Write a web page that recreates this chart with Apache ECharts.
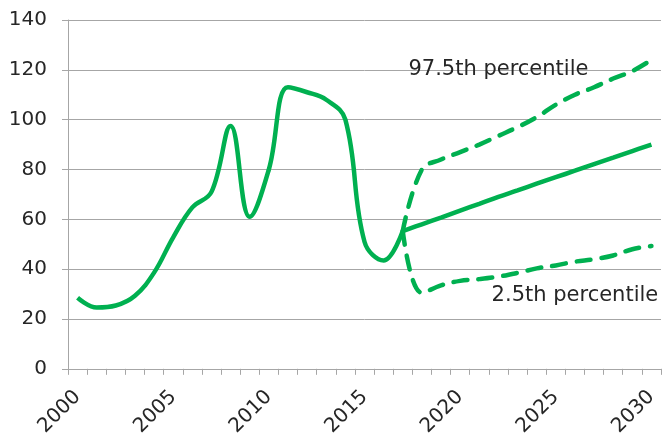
<!DOCTYPE html>
<html>
<head>
<meta charset="utf-8">
<script src="https://cdn.jsdelivr.net/npm/echarts@6/dist/echarts.min.js"></script>
<style>
  html, body { margin: 0; padding: 0; background: #fff; overflow: hidden; }
  #main { width: 664px; height: 439px; }
</style>
</head>
<body>
<div id="main"></div>
<script>
  // years on the category axis
  let years = []
  for (let y = 2000; y <= 2030; y++) years.push(String(y))

  // history 2000-2017
  let history = [28.5, 24.6, 25.4, 29.3, 38.6, 52.8, 64.8, 71, 97.5, 61, 80, 113, 111, 108, 100, 51, 43.5, 55.3]
  // central forecast 2017-2030
  let central = [55.3, 58, 60.7, 63.5, 66.2, 69, 71.6, 74.3, 76.9, 79.5, 82.2, 84.8, 87.4, 90]
  // upper band 2017-2030
  let upper = [55.3, 80, 84, 87, 90, 93.5, 97, 101, 106, 110, 113, 116.5, 119.5, 124]
  // lower band 2017-2030
  let lower = [55.3, 30.5, 33.5, 35.3, 36, 37, 38.5, 40.3, 41.5, 43, 44, 45.5, 48, 49.3]

  let upperLabel = { text: '97.5th percentile', year: '2022', value: 120.3 }
  let lowerLabel = { text: '2.5th percentile', year: '2026', value: 29.6 }

  let green = '#00B050'
  let textColor = '#262626'
  let gridColor = '#A6A6A6'
  let font = 'DejaVu Sans'

  // pad a series with nulls so it starts at the given year
  let fromYear = (arr, start) => {
    let out = []
    for (let i = 0; i < years.length; i++) {
      let k = i - (Number(start) - 2000)
      out.push(k >= 0 && k < arr.length ? arr[k] : null)
    }
    return out
  }

  let labelPoint = (lbl) => ({
    symbol: 'rect',
    symbolSize: 0,
    silent: true,
    label: {
      show: true,
      position: 'inside',
      formatter: lbl.text,
      color: textColor,
      fontFamily: font,
      fontSize: 21
    },
    data: [{ coord: [lbl.year, lbl.value] }]
  })

  let myChart = echarts.init(document.getElementById('main'))

  let option = {
    animation: false,
    grid: { left: 68, right: 3, top: 20, bottom: 67, containLabel: false },
    xAxis: {
      type: 'category',
      data: years,
      boundaryGap: true,
      axisLine: { lineStyle: { color: gridColor, width: 1 } },
      axisTick: { show: true, interval: 0, length: 6, lineStyle: { color: gridColor } },
      axisLabel: {
        interval: 4,
        rotate: 45,
        margin: 25,
        color: textColor,
        fontFamily: font,
        fontSize: 20
      },
      splitLine: { show: false }
    },
    yAxis: {
      type: 'value',
      min: 0,
      max: 140,
      interval: 20,
      axisLine: { show: true, lineStyle: { color: gridColor, width: 1 } },
      axisTick: { show: true, length: 6, lineStyle: { color: gridColor } },
      axisLabel: { margin: 21, color: textColor, fontFamily: font, fontSize: 20 },
      splitLine: { lineStyle: { color: gridColor, width: 1 } }
    },
    series: [
      {
        name: 'history',
        type: 'line',
        data: fromYear(history, '2000'),
        smooth: 0.4,
        showSymbol: false,
        lineStyle: { color: green, width: 4.5 }
      },
      {
        name: 'central',
        type: 'line',
        data: fromYear(central, '2017'),
        smooth: 0.4,
        showSymbol: false,
        lineStyle: { color: green, width: 4.5 }
      },
      {
        name: 'upper',
        type: 'line',
        data: fromYear(upper, '2017'),
        smooth: 0.4,
        showSymbol: false,
        lineStyle: { color: green, width: 4.5, type: [14, 11], cap: 'round' },
        markPoint: labelPoint(upperLabel)
      },
      {
        name: 'lower',
        type: 'line',
        data: fromYear(lower, '2017'),
        smooth: 0.4,
        showSymbol: false,
        lineStyle: { color: green, width: 4.5, type: [14, 11], cap: 'round' },
        markPoint: labelPoint(lowerLabel)
      }
    ]
  }

  myChart.setOption(option)
</script>
</body>
</html>
